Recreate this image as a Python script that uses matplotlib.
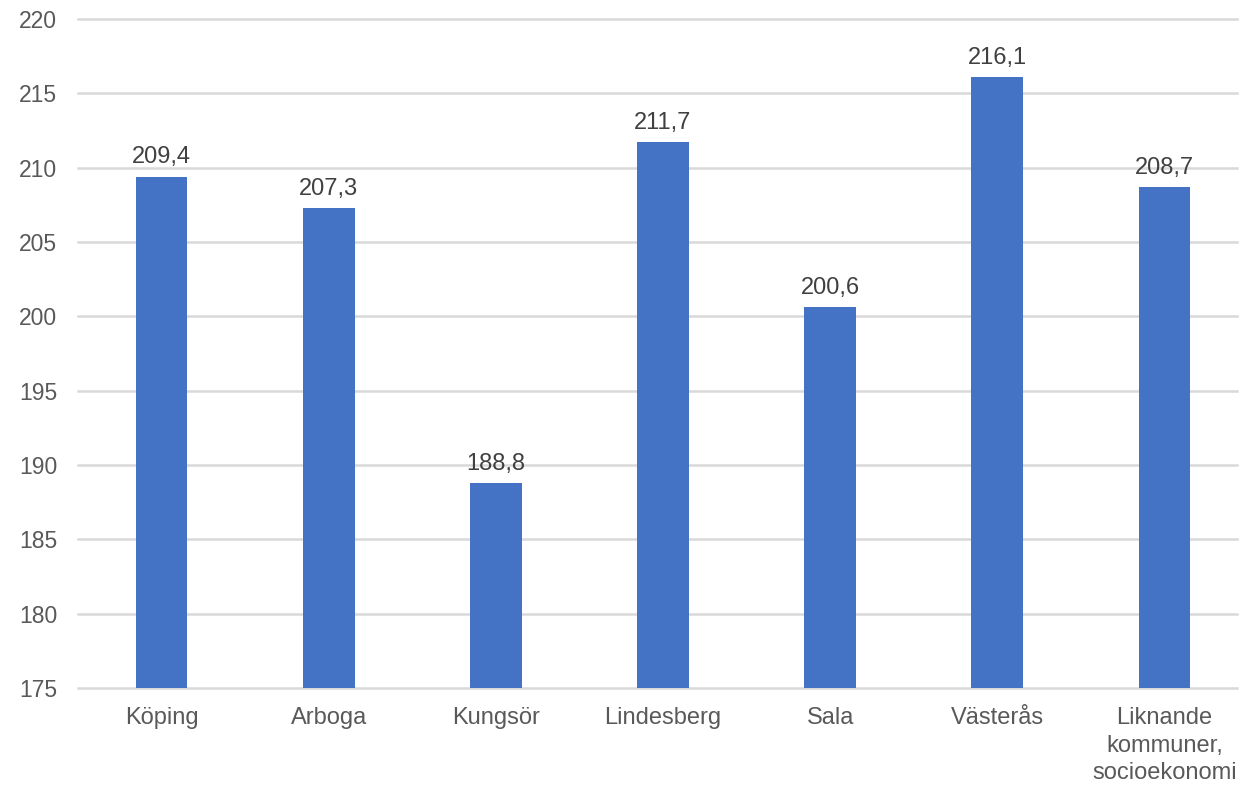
import matplotlib.pyplot as plt
import numpy as np

categories = ['Köping', 'Arboga', 'Kungsör', 'Lindesberg', 'Sala', 'Västerås',
              'Liknande\nkommuner,\nsocioekonomi']
values = [209.4, 207.3, 188.8, 211.7, 200.6, 216.1, 208.7]
y_ticks = [175, 180, 185, 190, 195, 200, 205, 210, 215, 220]

plt.rcParams['font.family'] = ['Liberation Sans', 'DejaVu Sans']

fig = plt.figure(figsize=(12.44, 7.86), dpi=100)
ax = fig.add_axes([78 / 1244, 0.1247, 1170 / 1244, 0.8511])

x = np.arange(len(categories))
ax.bar(x, values, width=0.31, color='#4472C4', zorder=3)

for xi, v in zip(x, values):
    ax.text(xi, v + 0.55, f'{v:.1f}'.replace('.', ','), ha='center', va='bottom',
            fontsize=17, color='#404040')

ax.set_ylim(175, 220)
ax.set_xlim(-0.5, len(categories) - 0.5)
ax.set_yticks(y_ticks)
ax.set_yticklabels([str(t) for t in y_ticks])
ax.set_xticks(x)
ax.set_xticklabels(categories, linespacing=1.3)
ax.tick_params(axis='both', length=0, colors='#595959')
ax.tick_params(axis='y', pad=15, labelsize=16.5)
ax.tick_params(axis='x', pad=14, labelsize=17)

# gridlines stop a little short of the right edge
for t in y_ticks:
    ax.axhline(t, xmin=0, xmax=0.991, color='#D9D9D9', linewidth=1.8, zorder=0,
               clip_on=False)
for s in ax.spines.values():
    s.set_visible(False)

fig.savefig('out.png', dpi=100)
